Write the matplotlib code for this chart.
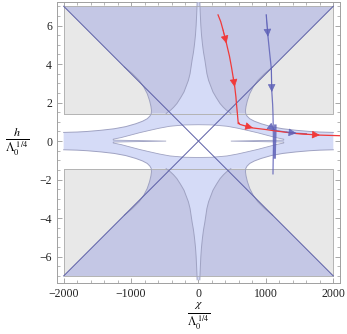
import numpy as np
import matplotlib
matplotlib.use("Agg")
import matplotlib.pyplot as plt
from matplotlib.ticker import MultipleLocator

plt.rcParams['font.family'] = ['Liberation Serif', 'DejaVu Serif']
plt.rcParams['mathtext.fontset'] = 'stix'

# region boundaries (upper right quadrant, mirrored)
x_max = 2000
h_top = 7.0
h_box = 1.43

# outer "hyperbola" boundary of the blue region
hyp_x = [2000, 1800, 1650, 1450, 1250, 1080, 930, 830, 760, 720, 700,
         697, 705, 725, 760, 810, 880, 980, 1100]
hyp_h = [0.45, 0.47, 0.50, 0.56, 0.64, 0.75, 0.90, 1.03, 1.16, 1.30, 1.43,
         1.60, 1.80, 2.10, 2.46, 2.80, 3.15, 3.50, 3.85]
n_low = 11  # points of hyp up to the gray box edge

# cusp ("star") boundary near chi = 0
star_x = [20, 22, 28, 35, 45, 60, 75, 95, 125, 150, 215, 265, 320, 370, 415, 455, 480]
star_h = [7.2, 7.0, 6.5, 6.0, 5.5, 5.0, 4.6, 4.2, 3.5, 3.15, 2.55, 2.25, 1.95, 1.75, 1.6, 1.5, 1.43]

# central white lens and its fork
lens_x = [0, 200, 425, 580, 720, 880, 1020, 1150, 1265]
lens_h = [0.85, 0.84, 0.77, 0.67, 0.56, 0.43, 0.30, 0.18, 0.10]
fork_tip = 480
fork_h = 0.05

# trajectories
red_x = [290, 330, 364, 415, 460, 489, 515, 538, 555, 563, 575, 586, 590, 600, 612, 700, 809, 1000, 1155, 1452, 1800, 2096]
red_h = [6.55, 6.2, 5.77, 5.07, 4.4, 3.85, 3.3, 2.81, 2.3, 1.95, 1.5, 1.08, 0.9, 0.95, 0.87, 0.78, 0.68, 0.6, 0.52, 0.39, 0.31, 0.28]
red_arrows = [3, 7, 16, 20]

blue_x = [1005, 1031, 1055, 1080, 1088, 1100, 1105, 1110, 1112, 1108, 1105]
blue_h = [6.55, 5.42, 4.6, 3.77, 2.55, 1.9, 1.43, 0.5, -0.3, -1.0, -1.7]
blue_arrows = [1, 4]

blue2_x = [1140, 1138, 1132, 1130]
blue2_h = [0.8, 0.2, -0.4, -0.85]

blue3_x = [1110, 1136, 1300, 1452, 1600]
blue3_h = [0.62, 0.55, 0.47, 0.41, 0.38]
blue3_arrows = [1, 3]

gray_fill = '#e8e8e8'
dark_fill = '#c4c7e5'
light_fill = '#d5dbf7'
edge_gray = '#b3b3b3'
edge_blue = '#9fa2c2'
red = '#f03a3a'
blue = '#5f62b8'

hx = np.array(hyp_x, float)
hh = np.array(hyp_h, float)
sx = np.array(star_x, float)
sh = np.array(star_h, float)
lx = np.array(lens_x, float)
lh = np.array(lens_h, float)

fig = plt.figure(figsize=(3.47, 3.34), dpi=100)
ax = fig.add_axes([0.164, 0.1536, 0.816, 0.841])

# gray boxes
for s in (1, -1):
    ax.fill([-x_max, x_max, x_max, -x_max], [s * h_box, s * h_box, s * h_top, s * h_top],
            color=gray_fill, lw=0, zorder=1)

# dark region (cone + part inside hyperbola, within gray boxes)
up = hx[n_low - 1:]
uph = hh[n_low - 1:]
for s in (1, -1):
    px = list(-up) + [-x_max, x_max] + list(up[::-1])
    py = list(uph) + [h_top, h_top] + list(uph[::-1])
    ax.fill(px, [s * v for v in py], color=dark_fill, lw=0, zorder=2)

# light blue region: band + star
lowx = hx[:n_low]
lowh = hh[:n_low]
px = [x_max] + list(lowx) + list(sx[::-1]) + list(-sx) + list(-lowx[::-1]) + [-x_max]
py = [0] + list(lowh) + list(sh[::-1]) + list(sh) + list(lowh[::-1]) + [0]
px = px + px[::-1]
py = py + [-v for v in py[::-1]]
ax.fill(px, py, color=light_fill, lw=0, zorder=3)

# white lens with fork
rx = list(-lx[::-1]) + list(lx[1:])
rh = list(lh[::-1]) + list(lh[1:])
wx = rx + [lx[-1], fork_tip, lx[-1]] + rx[::-1] + [-lx[-1], -fork_tip, -lx[-1]]
wh = rh + [fork_h, 0, -fork_h] + [-v for v in rh[::-1]] + [-fork_h, 0, fork_h]
ax.fill(wx, wh, facecolor='white', edgecolor=edge_blue, lw=0.6, zorder=4)

# outlines
for s in (1, -1):
    ax.plot([-x_max, x_max, x_max, -x_max, -x_max],
            [s * h_box, s * h_box, s * h_top, s * h_top, s * h_box],
            color=edge_gray, lw=0.7, zorder=5)
for sx_ in (1, -1):
    for sy_ in (1, -1):
        ax.plot(sx_ * hx, sy_ * hh, color=edge_blue, lw=0.7, zorder=5)
        ax.plot(sx_ * sx, sy_ * sh, color=edge_blue, lw=0.7, zorder=5)

# diagonals
ax.plot([-x_max, x_max], [-h_top, h_top], color='#5b5ea6', lw=0.7, zorder=6)
ax.plot([-x_max, x_max], [h_top, -h_top], color='#5b5ea6', lw=0.7, zorder=6)


def path(xs, hs, col, arrows, lw=0.9, alpha=1.0):
    ax.plot(xs, hs, color=col, lw=lw, alpha=alpha, zorder=7)
    for i in arrows:
        ax.annotate('', xy=(xs[i], hs[i]), xytext=(xs[i - 1], hs[i - 1]),
                    arrowprops=dict(arrowstyle='-|>', mutation_scale=12, color=col,
                                    lw=0.5, shrinkA=0, shrinkB=0, alpha=alpha),
                    zorder=8)


path(blue_x, blue_h, blue, blue_arrows, alpha=0.85)
path(blue2_x, blue2_h, blue, [], lw=1.8, alpha=0.85)
path(blue3_x, blue3_h, blue, blue3_arrows, alpha=0.85)
path(red_x, red_h, red, red_arrows)

ax.set_xlim(-2100, 2100)
ax.set_ylim(-7.35, 7.23)

ax.xaxis.set_major_locator(MultipleLocator(1000))
ax.xaxis.set_minor_locator(MultipleLocator(200))
ax.yaxis.set_major_locator(MultipleLocator(2))
ax.yaxis.set_minor_locator(MultipleLocator(0.5))
ax.tick_params(which='both', direction='in', top=True, right=True, colors='#999999',
               labelcolor='#222222', labelsize=8.5)
ax.tick_params(which='major', length=3.5, width=0.6)
ax.tick_params(which='minor', length=2, width=0.5)
for sp in ax.spines.values():
    sp.set_color('#a0a0a0')
    sp.set_linewidth(0.7)

ax.set_xlabel(r'$\frac{\chi}{\Lambda_0^{\ 1/4}}$', fontsize=12, labelpad=1)
ax.set_ylabel(r'$\frac{h}{\Lambda_0^{\ 1/4}}$', fontsize=12.5, rotation=0, va='center')
ax.yaxis.set_label_coords(-0.14, 0.5)

fig.savefig('out.png', dpi=100)
